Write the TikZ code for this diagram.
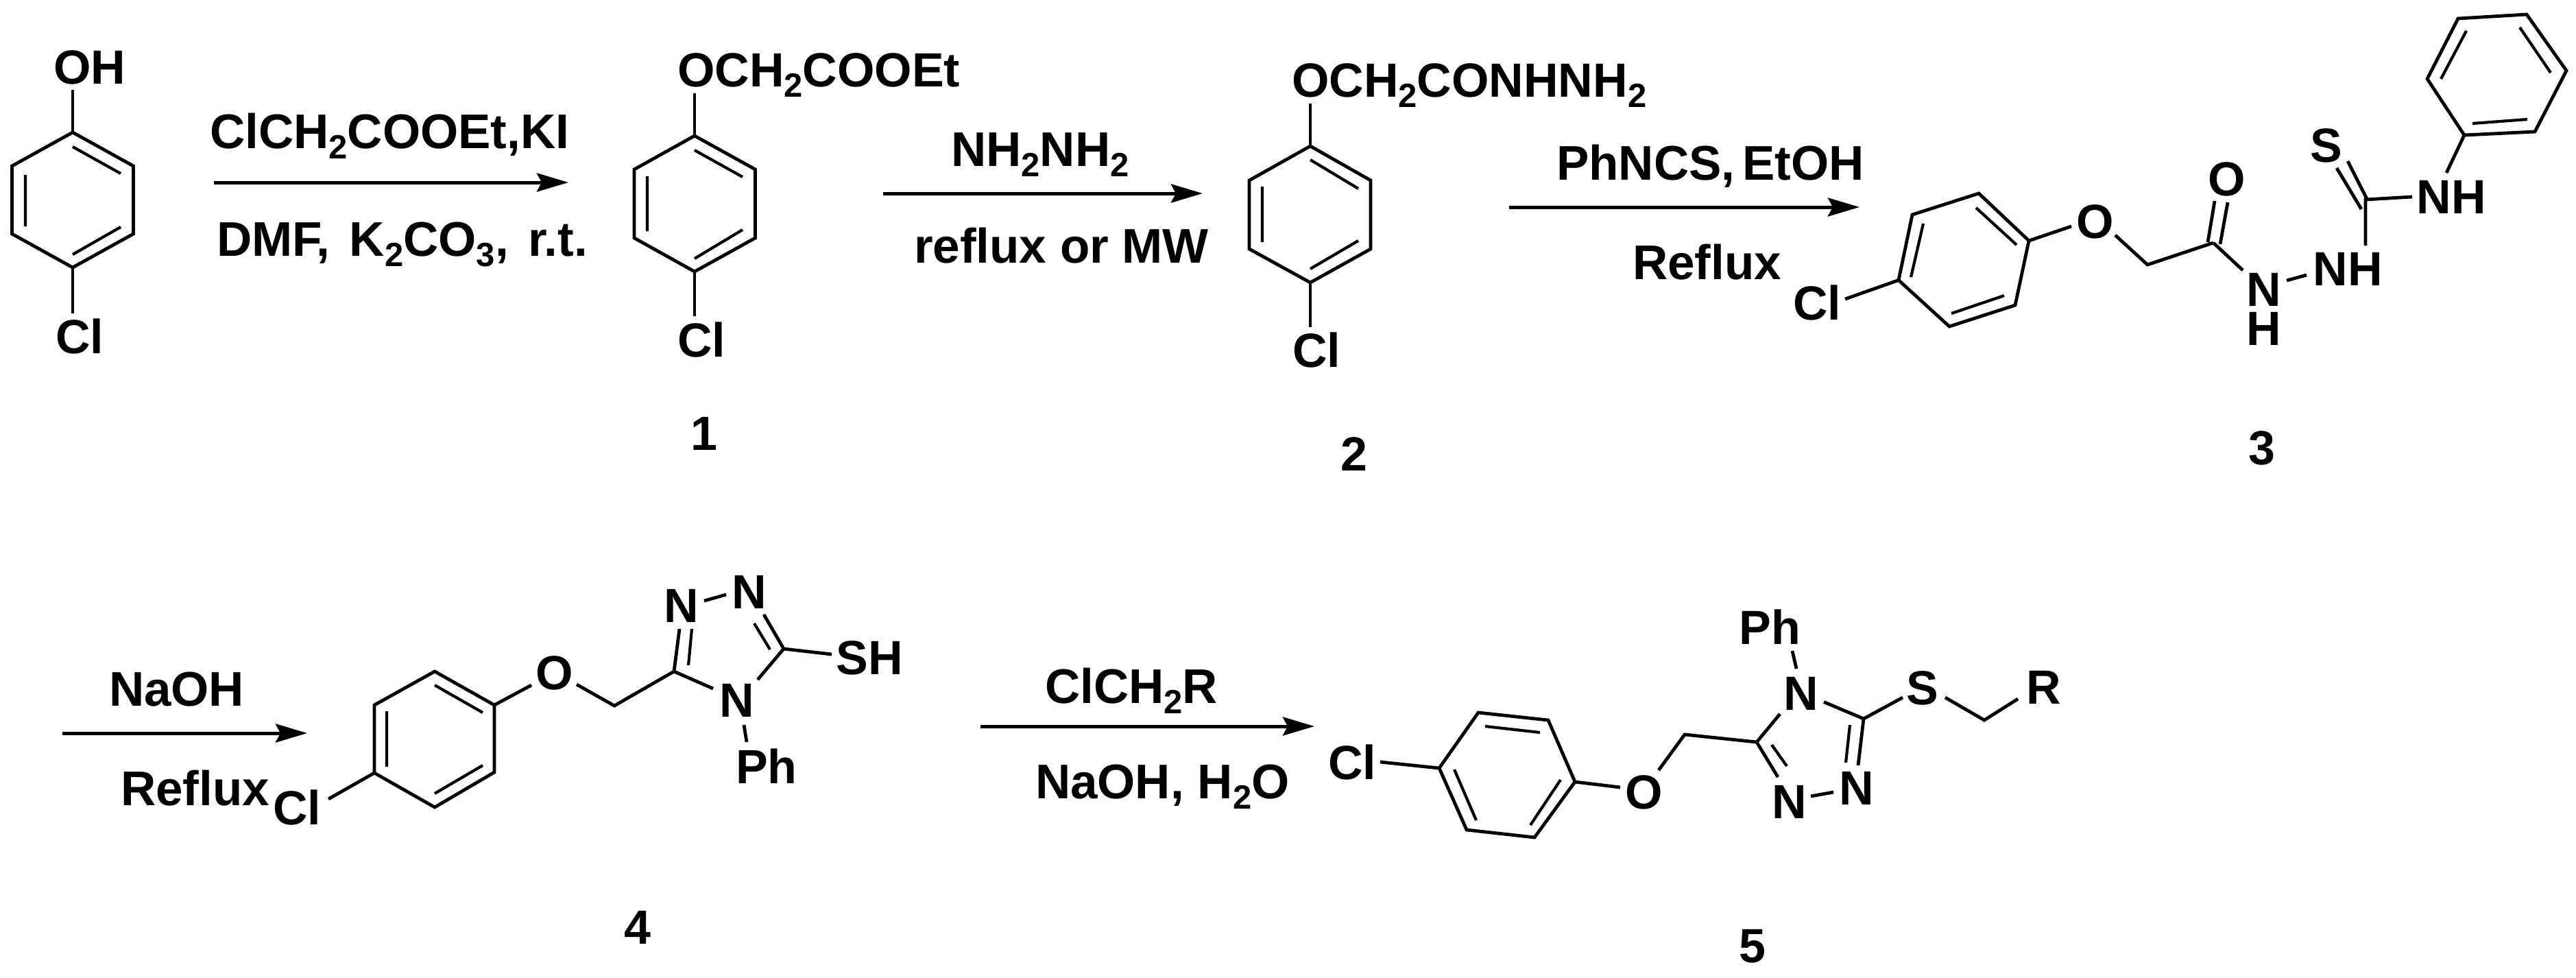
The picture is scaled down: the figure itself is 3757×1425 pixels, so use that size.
\documentclass[tikz,border=0pt]{standalone}
\usepackage{fontspec}
\setmainfont{Liberation Sans}
\usetikzlibrary{arrows.meta}
\newcommand{\sbs}[1]{\raisebox{-15pt}{\fontsize{49}{49}\selectfont #1}}
\newcommand{\pts}[2]{\foreach \n/\px/\py in {#2} {\coordinate (#1\n) at (\px,\py);}}
\tikzset{
  bond/.style={line width=4.8pt,line join=miter,black},
  inner/.style={line width=4.2pt,black},
  rxn/.style={line width=5pt,black,-{Stealth[length=46pt,width=27pt,inset=7pt]}},
  lab/.style={inner sep=0pt,outer sep=0pt,font=\fontsize{70}{70}\selectfont\bfseries,text=black},
  rgt/.style={inner sep=0pt,outer sep=0pt,font=\fontsize{71}{71}\selectfont\bfseries,text=black},
}
\begin{document}
\begin{tikzpicture}[x=1pt,y=-1pt]
\useasboundingbox (0,0) rectangle (3757,1425);

% ---------- 4-chlorophenol
\pts{a}{1/106/193,2/194.5/242,3/194.5/341,4/106/390,5/17.5/341,6/17.5/242,
 i1/106/214,i2/176/253,i3/176/331,i4/106/371,i5/37/330,i6/37/255,t/106/131,b/106/457}
\draw[bond] (a1)--(a2)--(a3)--(a4)--(a5)--(a6)--cycle;
\draw[inner] (ai1)--(ai2) (ai3)--(ai4) (ai5)--(ai6);
\draw[bond] (a1)--(at) (a4)--(ab);
\node[lab,anchor=base] (aoh) at (131,122) {OH};
\node[lab,anchor=base] (acl) at (116,515) {Cl};

% ---------- arrow 1
\coordinate (r1s) at (312,266); \coordinate (r1e) at (829,266);
\draw[rxn] (r1s)--(r1e);
\node[rgt,anchor=base west] (r1a) at (306,216) {ClCH\sbs{2}COOEt,KI};
\node[rgt,anchor=base west] (r1b) at (316,373) {DMF,\hspace{8.5pt} K\sbs{2}CO\sbs{3},\hspace{8.5pt} r.t.};

% ---------- compound 1
\pts{b}{1/1013/198,2/1101.5/247,3/1101.5/347,4/1013/396,5/925/347,6/925/247,
 i1/1013/219,i2/1083/258,i3/1083/335,i4/1013/377,i5/944/337,i6/944/257,t/1013/136,b/1013/461}
\draw[bond] (b1)--(b2)--(b3)--(b4)--(b5)--(b6)--cycle;
\draw[inner] (bi1)--(bi2) (bi3)--(bi4) (bi5)--(bi6);
\draw[bond] (b1)--(bt) (b4)--(bb);
\node[lab,anchor=base west] (bo) at (988,126) {OCH\sbs{2}COOEt};
\node[lab,anchor=base] (bcl) at (1023,520) {Cl};
\node[lab,anchor=base] (n1) at (1027,656) {1};

% ---------- arrow 2
\coordinate (r2s) at (1288,282); \coordinate (r2e) at (1754,282);
\draw[rxn] (r2s)--(r2e);
\node[rgt,anchor=base west] (r2a) at (1387,242) {NH\sbs{2}NH\sbs{2}};
\node[rgt,anchor=base west] (r2b) at (1333,383) {reflux or MW};

% ---------- compound 2
\pts{c}{1/1911/213,2/1999/263,3/1999/363,4/1911/412,5/1822/363,6/1822/263,
 i1/1911/233,i2/1981/275,i3/1981/351,i4/1911/392,i5/1841/353,i6/1841/272,t/1911/151,b/1911/477}
\draw[bond] (c1)--(c2)--(c3)--(c4)--(c5)--(c6)--cycle;
\draw[inner] (ci1)--(ci2) (ci3)--(ci4) (ci5)--(ci6);
\draw[bond] (c1)--(ct) (c4)--(cb);
\node[lab,anchor=base west] (co) at (1884,141) {OCH\sbs{2}CONHNH\sbs{2}};
\node[lab,anchor=base] (ccl) at (1920,535) {Cl};
\node[lab,anchor=base] (n2) at (1975,686) {2};

% ---------- arrow 3
\coordinate (r3s) at (2201,302); \coordinate (r3e) at (2712,302);
\draw[rxn] (r3s)--(r3e);
\node[rgt,anchor=base west] (r3a) at (2270,262) {PhNCS,\hspace{-9pt} EtOH};
\node[rgt,anchor=base west] (r3b) at (2381,407) {Reflux};

% ---------- compound 3
\pts{d}{1/2886/282,2/2959/351,3/2939/445,4/2843/476,5/2769/408.5,6/2789/313,
 i1/2882/303,i2/2941/357,i3/2923/431,i4/2846/457,i5/2787/404,i6/2805/326,
 c/2691/436,o/3021/330,p/3085/343,q/3132/386,r/3228/354,
 s/3220/353,t/3230/293,u/3238/356,v/3249/295,w/3271/394,
 x/3335/409,y/3364/401,z/3450/291,A/3450/358,B/3452/290,C/3424/235,D/3444/305,E/3408/245,
 F/3518/287,G/3568/252}
\draw[bond] (d1)--(d2)--(d3)--(d4)--(d5)--(d6)--cycle;
\draw[inner] (di1)--(di2) (di3)--(di4) (di5)--(di6);
\draw[bond] (d5)--(dc) (d2)--(do) (dp)--(dq)--(dr) (ds)--(dt) (du)--(dv) (dr)--(dw)
 (dx)--(dy) (dA)--(dz)--(dF) (dB)--(dC) (dD)--(dE);
\pts{e}{1/3594/197,2/3697/192,3/3743/103,4/3685/21,5/3585/27,6/3540/115,
 i1/3606/180,i2/3686/174,i3/3720/106,i4/3675/40,i5/3597/45,i6/3560/115}
\draw[bond] (e1)--(e2)--(e3)--(e4)--(e5)--(e6)--cycle;
\draw[inner] (ei1)--(ei2) (ei3)--(ei4) (ei5)--(ei6);
\draw[bond] (dG)--(e1);
\node[lab,anchor=base] (dcl) at (2650,466) {Cl};
\node[lab,anchor=base] (do1) at (3056,347) {O};
\node[lab,anchor=base] (do2) at (3248,285) {O};
\node[lab,anchor=base] (dn) at (3302,446) {N};
\node[lab,anchor=base] (dh) at (3302,503) {H};
\node[lab,anchor=base] (dnh) at (3424,416) {NH};
\node[lab,anchor=base] (ds1) at (3393,236) {S};
\node[lab,anchor=base] (dnh2) at (3575,311) {NH};
\node[lab,anchor=base] (n3) at (3299,677) {3};

% ---------- arrow 4
\coordinate (r4s) at (91,1069); \coordinate (r4e) at (448,1069);
\draw[rxn] (r4s)--(r4e);
\node[rgt,anchor=base west] (r4a) at (159,1029) {NaOH};
\node[rgt,anchor=base west] (r4b) at (176,1174) {Reflux};

% ---------- compound 4
\pts{f}{1/634/979,2/721/1028,3/721/1126,4/634/1177,5/546/1127,6/546/1028,
 i1/634/999,i2/704/1039,i3/704/1116,i4/634/1157,i5/564/1118,i6/564/1037,
 c/479/1165,o/775/999,p/841/998,q/896/1029,r/983/979,s/1040/1004,
 t/1085/1057,u/1089/1082,v/991/917,w/1004/970,x/1009/917,
 y/1027/876,z/1059/867,A/1114/896,B/1143/946,C/1100/909,D/1123/947,E/1105/991,F/1213/954}
\draw[bond] (f1)--(f2)--(f3)--(f4)--(f5)--(f6)--cycle;
\draw[inner] (fi1)--(fi2) (fi3)--(fi4) (fi5)--(fi6);
\draw[bond] (f5)--(fc) (f2)--(fo) (fp)--(fq)--(fr)--(fs) (ft)--(fu) (fr)--(fv) (fy)--(fz)
 (fA)--(fB) (fE)--(fB)--(fF);
\draw[inner] (fw)--(fx) (fC)--(fD);
\node[lab,anchor=base] (fcl) at (433,1202) {Cl};
\node[lab,anchor=base] (fo1) at (809,1005) {O};
\node[lab,anchor=base] (fn1) at (1075,1045) {N};
\node[lab,anchor=base] (fph) at (1118,1142) {Ph};
\node[lab,anchor=base] (fn2) at (994,907) {N};
\node[lab,anchor=base] (fn3) at (1093,887) {N};
\node[lab,anchor=base] (fsh) at (1268,983) {SH};
\node[lab,anchor=base] (n4) at (930,1376) {4};

% ---------- arrow 5
\coordinate (r5s) at (1430,1059); \coordinate (r5e) at (1917,1059);
\draw[rxn] (r5s)--(r5e);
\node[rgt,anchor=base west] (r5a) at (1524,1025) {ClCH\sbs{2}R};
\node[rgt,anchor=base west] (r5b) at (1510,1164) {NaOH, H\sbs{2}O};

% ---------- compound 5
\pts{g}{1/2156/1039,2/2258/1050,3/2297/1140,4/2238/1221,5/2139/1210,6/2099/1120,
 i1/2166/1059,i2/2246/1068,i3/2276/1137,i4/2232/1203,i5/2121/1122,i6/2153/1196,
 c/2013/1111,o/2363/1148,p/2419/1123,q/2457/1071,r/2562/1082,s/2596/1041,
 t/2620/975,u/2614/949,v/2593/1133,w/2584/1086,x/2606/1117,y/2641/1161,z/2674/1155,
 A/2718/1048,B/2710/1116,C/2698/1057,D/2692/1112,E/2660/1023.5,F/2775/1017,
 G/2837/1017,H/2894/1050,I/2943/1019}
\draw[bond] (g1)--(g2)--(g3)--(g4)--(g5)--(g6)--cycle;
\draw[inner] (gi1)--(gi2) (gi3)--(gi4) (gi5)--(gi6);
\draw[bond] (g6)--(gc) (g3)--(go) (gp)--(gq)--(gr)--(gs) (gt)--(gu) (gr)--(gv) (gy)--(gz)
 (gB)--(gA) (gE)--(gA)--(gF) (gG)--(gH)--(gI);
\draw[inner] (gw)--(gx) (gC)--(gD);
\node[lab,anchor=base] (gcl) at (1972,1136) {Cl};
\node[lab,anchor=base] (go1) at (2398,1179) {O};
\node[lab,anchor=base] (gn1) at (2627,1035) {N};
\node[lab,anchor=base] (gph) at (2581,939) {Ph};
\node[lab,anchor=base] (gn2) at (2610,1193) {N};
\node[lab,anchor=base] (gn3) at (2708,1173) {N};
\node[lab,anchor=base] (gs1) at (2804,1027) {S};
\node[lab,anchor=base] (gr1) at (2981,1026) {R};
\node[lab,anchor=base] (n5) at (2556,1403) {5};
\end{tikzpicture}
\end{document}
